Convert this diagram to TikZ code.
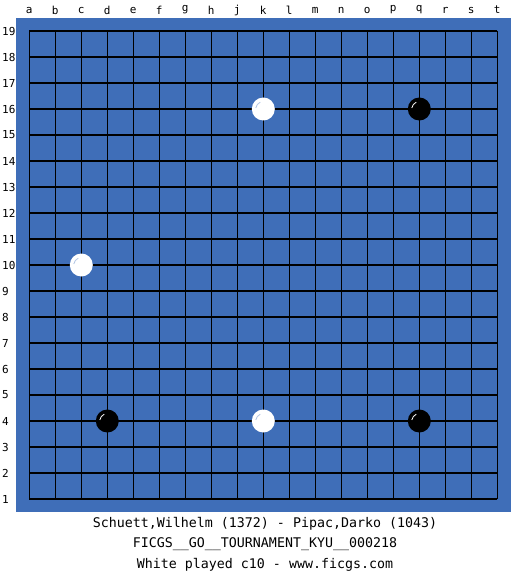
\documentclass[tikz,border=0pt]{standalone}
\usepackage{fontspec}
\setmonofont{DejaVu Sans Mono}
\definecolor{boardblue}{HTML}{3F6EB8}
\begin{document}
\begin{tikzpicture}[x=1pt,y=-1pt,
  lbl/.style={font=\ttfamily\fontsize{11}{13}\selectfont,inner sep=0pt},
  captext/.style={font=\ttfamily\fontsize{13.3}{15}\selectfont,inner sep=0pt},
  gridline/.style={line width=1.1pt,black},
  wstone/.style={circle,fill=white,minimum size=23pt,inner sep=0pt},
  bstone/.style={circle,fill=black,minimum size=23pt,inner sep=0pt}]
\useasboundingbox (0,0) rectangle (525,575);
\fill[white] (0,0) rectangle (525,575);
\fill[boardblue] (16,18) rectangle (511,512);
% grid
\foreach \i in {0,...,18}{
  \draw[gridline] (29.3+\i*26,31) -- (29.3+\i*26,499);
  \draw[gridline] (29.3,31+\i*26) -- (497.3,31+\i*26);
}
% column labels
\foreach \l [count=\i from 0] in {a,b,c,d,e,f,g,h,j,k,l,m,n,o,p,q,r,s,t}
  \node[lbl] (col\l) at (29.3+\i*26,10) {\l};
% row labels
\foreach \r in {1,...,19}
  \node[lbl,anchor=west] (row\r) at (2,31+19*26-\r*26) {\r};
% stones
\node[wstone] (k16) at (263.3,109) {};
\node[bstone] (q16) at (419.3,109) {};
\node[wstone] (c10) at (81.3,265) {};
\node[bstone] (d4)  at (107.3,421) {};
\node[wstone] (k4)  at (263.3,421) {};
\node[bstone] (q4)  at (419.3,421) {};
% highlights
\foreach \s in {q16,d4,q4}
  \draw[white,line width=0.8pt] ([shift={(-7.5,-1)}]\s.center) arc[start angle=190,end angle=245,radius=8];
\foreach \s in {k16,c10,k4}
  \draw[boardblue!40,line width=0.8pt] ([shift={(-7.5,-1)}]\s.center) arc[start angle=190,end angle=245,radius=8];
% caption
\node[captext] (t1) at (265,524) {Schuett,Wilhelm (1372) - Pipac,Darko (1043)};
\node[captext] (t2) at (265,544.5) {FICGS\_\_GO\_\_TOURNAMENT\_KYU\_\_000218};
\node[captext] (t3) at (265,565) {White played c10 - www.ficgs.com};
\end{tikzpicture}
\end{document}
